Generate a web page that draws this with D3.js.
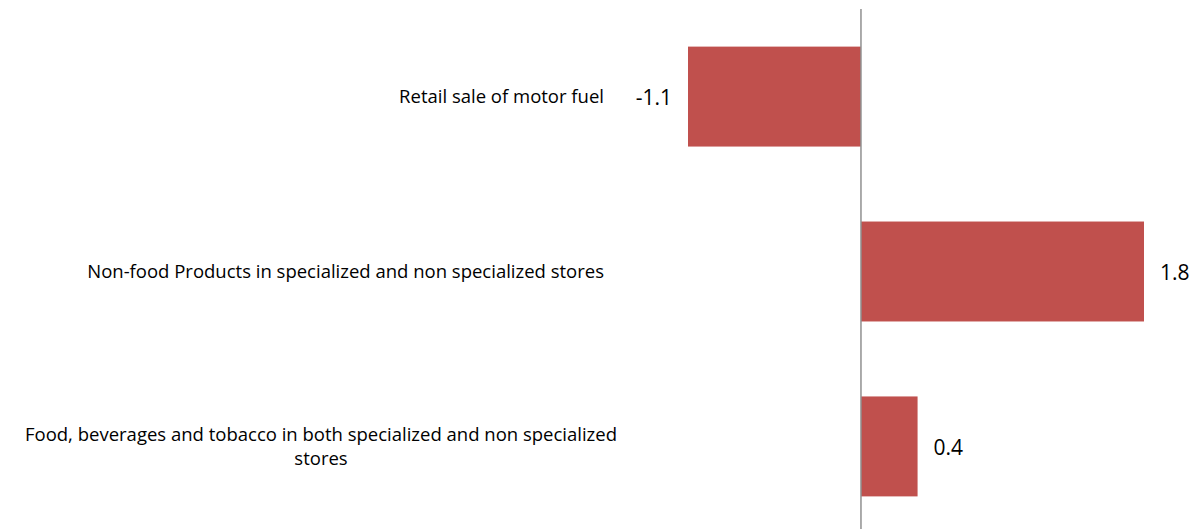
<!DOCTYPE html>
<html>
<head>
<meta charset="utf-8">
<script src="https://cdn.jsdelivr.net/npm/d3@7"></script>
<style>
  body { margin: 0; background: #fff; }
  text { font-family: "Open Sans", "Noto Sans", sans-serif; fill: #000; }
</style>
</head>
<body>
<div id="chart"></div>
<script>
var categories = [
  "Retail sale of motor fuel",
  "Non-food Products in specialized and non specialized stores",
  "Food, beverages and tobacco in both specialized and non specialized stores"
];
var values = [-1.1, 1.8, 0.36];

var width = 1197, height = 529;

var svg = d3.select("#chart").append("svg")
    .attr("width", width)
    .attr("height", height);

var x = d3.scaleLinear().domain([-1.1, 1.8]).range([688, 1144]);
var y = d3.scaleBand().domain(categories).range([9, 534])
    .paddingInner(0.4286).paddingOuter(0.215);

var data = categories.map(function(c, i) { return {cat: c, val: values[i]}; });

svg.selectAll("rect.bar")
    .data(data)
  .enter().append("rect")
    .attr("class", "bar")
    .attr("x", function(d) { return x(Math.min(0, d.val)); })
    .attr("y", function(d) { return y(d.cat); })
    .attr("width", function(d) { return Math.abs(x(d.val) - x(0)); })
    .attr("height", y.bandwidth())
    .attr("fill", "#c0504d");

// zero axis line
svg.append("line")
    .attr("x1", x(0)).attr("x2", x(0))
    .attr("y1", y.range()[0]).attr("y2", y.range()[1])
    .attr("stroke", "#909090")
    .attr("stroke-width", 1.5);

// value labels
svg.selectAll("text.val")
    .data(data)
  .enter().append("text")
    .attr("class", "val")
    .attr("x", function(d) { return d.val < 0 ? x(d.val) - 16 : x(d.val) + 16; })
    .attr("y", function(d) { return y(d.cat) + y.bandwidth() / 2 + 1; })
    .attr("dy", "0.35em")
    .attr("text-anchor", function(d) { return d.val < 0 ? "end" : "start"; })
    .style("font-size", "21px")
    .text(function(d) { return d.val.toFixed(1); });

// category labels, wrapped like the original
var maxW = 640;
svg.selectAll("text.cat")
    .data(data)
  .enter().append("text")
    .attr("class", "cat")
    .style("font-size", "18.5px")
    .each(function(d) {
      var t = d3.select(this);
      var words = d.cat.split(" "), lines = [], line = [];
      var probe = t.append("tspan");
      words.forEach(function(w) {
        line.push(w);
        probe.text(line.join(" "));
        if (probe.node().getComputedTextLength() > maxW && line.length > 1) {
          line.pop();
          lines.push(line.join(" "));
          line = [w];
        }
      });
      lines.push(line.join(" "));
      probe.remove();
      var cy = y(d.cat) + y.bandwidth() / 2;
      var lh = 24;
      var multi = lines.length > 1;
      t.attr("text-anchor", multi ? "middle" : "end");
      lines.forEach(function(l, i) {
        t.append("tspan")
          .attr("x", multi ? 321 : 604)
          .attr("y", cy + (i - (lines.length - 1) / 2) * lh)
          .attr("dy", "0.35em")
          .text(l);
      });
    });
</script>
</body>
</html>
